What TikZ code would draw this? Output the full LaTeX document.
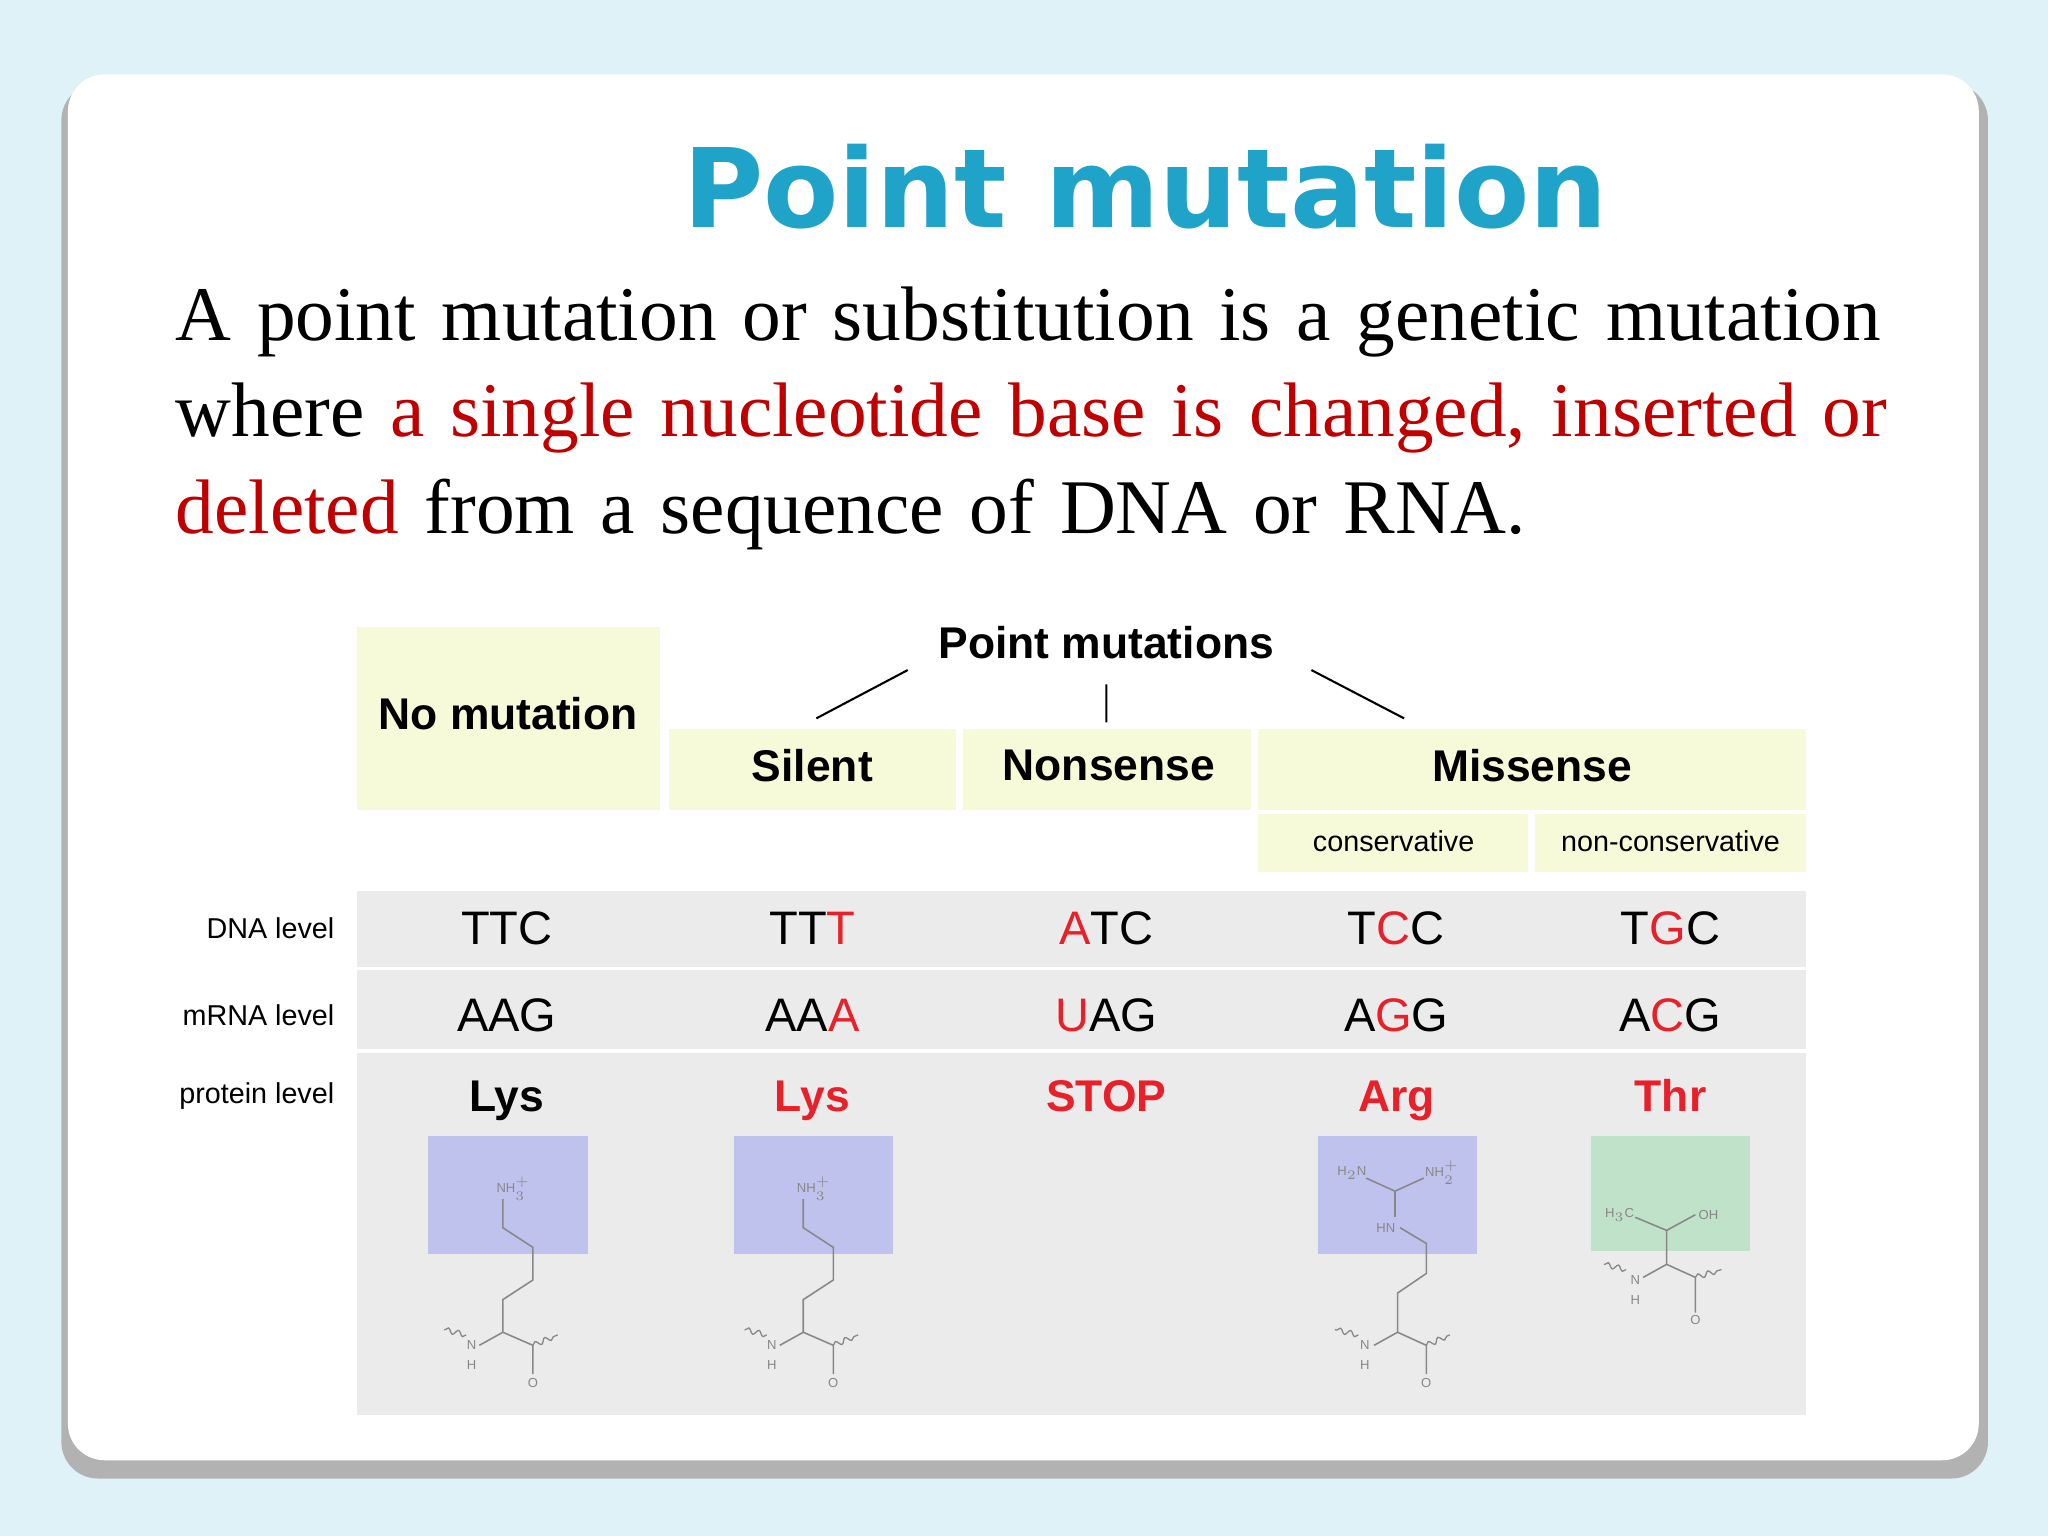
\documentclass[tikz,border=0pt]{standalone}
\usepackage{fontspec}
\setmainfont{Liberation Serif}
\setsansfont{Liberation Sans}
\newfontfamily\titlefont{DejaVu Sans}
\usetikzlibrary{decorations.pathmorphing}
\definecolor{bgblue}{HTML}{DFF2F8}
\definecolor{ttl}{HTML}{1FA3C8}
\definecolor{dred}{HTML}{C00000}
\definecolor{bred}{HTML}{E8202A}
\definecolor{yel}{HTML}{F7FAD8}
\definecolor{gry}{HTML}{EBEBEC}
\definecolor{lav}{HTML}{BFC2EC}
\definecolor{grn}{HTML}{BFE2C8}
\definecolor{mol}{HTML}{888888}
\begin{document}
\begin{tikzpicture}[x=0.5pt,y=-0.5pt,
  hdr/.style={font=\sffamily\bfseries\fontsize{17}{20}\selectfont},
  cod/.style={font=\sffamily\fontsize{18}{20}\selectfont},
  prot/.style={font=\sffamily\bfseries\fontsize{17}{20}\selectfont},
  lvl/.style={font=\sffamily\fontsize{11}{13}\selectfont,anchor=east},
  sub/.style={font=\sffamily\fontsize{11}{13}\selectfont},
  bond/.style={draw=mol,line width=0.6pt},
  wav/.style={draw=mol,line width=0.5pt,decorate,decoration={snake,amplitude=1pt,segment length=4pt}},
  atm/.style={font=\sffamily\fontsize{5}{6}\selectfont,text=mol,inner sep=0.5pt}]
\useasboundingbox (0,0) rectangle (1568,1176);
\fill[bgblue] (0,0) rectangle (1568,1176);
\fill[gray!60,rounded corners=14] (47,64) rectangle (1522,1132);
\fill[white,rounded corners=14] (52,57) rectangle (1515,1118);
\node (title) [font=\titlefont\bfseries\fontsize{42}{50}\selectfont,text=ttl] at (877,143) {Point mutation};
\node (body) [anchor=north west,align=left,text width=730pt,font=\fontsize{29.6}{37}\selectfont,inner sep=0] at (134,219)
 {A point mutation or substitution is a genetic mutation\\where \textcolor{dred}{a single nucleotide base is changed, inserted or}\\\textcolor{dred}{deleted} from a sequence of DNA or RNA.};
% yellow boxes
\fill[yel] (273,480) rectangle (505,620);
\fill[yel] (512,558) rectangle (732,620);
\fill[yel] (737,558) rectangle (958,620);
\fill[yel] (963,558) rectangle (1383,620);
\fill[yel] (963,623) rectangle (1170,668);
\fill[yel] (1175,623) rectangle (1383,668);
\node (nomut) [hdr] at (389,546) {No mutation};
\node (pm) [hdr] at (847,492) {Point mutations};
\node (sil) [hdr] at (622,586) {Silent};
\node (non) [hdr] at (849,586) {Nonsense};
\node (mis) [hdr] at (1173,586) {Missense};
\node (cons) [sub] at (1067,644) {conservative};
\node (ncons) [sub] at (1279,644) {non-conservative};
\coordinate (a1) at (695,513); \coordinate (a2) at (625,550);
\coordinate (b1) at (847,524); \coordinate (b2) at (847,553);
\coordinate (c1) at (1004,513); \coordinate (c2) at (1075,550);
\draw[line width=0.8pt] (a1)--(a2) (b1)--(b2) (c1)--(c2);
% grey table
\fill[gry] (273,682) rectangle (1383,740);
\fill[gry] (273,743) rectangle (1383,803);
\fill[gry] (273,806) rectangle (1383,1083);
\node[lvl] at (263,711) {DNA level};
\node[lvl] at (263,777) {mRNA level};
\node[lvl] at (263,839) {protein level};
\def\R#1{\textcolor{bred}{#1}}
\foreach \x/\d/\m/\p in {388/TTC/AAG/Lys,622/TT\R{T}/AA\R{A}/\R{Lys},847/\R{A}TC/\R{U}AG/\R{STOP},1069/T\R{C}C/A\R{G}G/\R{Arg},1279/T\R{G}C/A\R{C}G/\R{Thr}}{
  \node[cod] at (\x,711) {\d};
  \node[cod] at (\x,777) {\m};
  \node[prot,anchor=base] at (\x,851) {\p};
}
% molecule boxes
\fill[lav] (328,870) rectangle (450,960);
\fill[lav] (562,870) rectangle (684,960);
\fill[lav] (1009,870) rectangle (1131,960);
\fill[grn] (1218,870) rectangle (1340,958);
% lysine
\foreach \x in {385,615}{
 \node[atm] at (\x+8,910) {NH$_3^+$};
 \draw[bond] (\x,918)--(\x,940)--(\x+23,955)--(\x+23,980)--(\x,995)--(\x,1020)--(\x+23,1030)--(\x+23,1052);
 \draw[bond] (\x,1020)--(\x-18,1030);
 \draw[wav] (\x+23,1030)--(\x+42,1022);
 \draw[wav] (\x-28,1022)--(\x-45,1018);
 \node[atm] at (\x-24,1030) {N};
 \node[atm] at (\x-24,1045) {H};
 \node[atm] at (\x+23,1059) {O};
}
% arginine
\node[atm] at (1035,898) {H$_2$N};
\node[atm] at (1104,898) {NH$_2^+$};
\node[atm] at (1061,940) {HN};
\draw[bond] (1046,902)--(1068,912)--(1090,902);
\draw[bond] (1068,912)--(1068,932);
\draw[bond] (1072,940)--(1092,952)--(1092,975)--(1070,990)--(1070,1020)--(1092,1030)--(1092,1052);
\draw[bond] (1070,1020)--(1052,1030);
\draw[wav] (1092,1030)--(1110,1022);
\draw[wav] (1040,1022)--(1022,1018);
\node[atm] at (1045,1030) {N};
\node[atm] at (1045,1045) {H};
\node[atm] at (1092,1059) {O};
% threonine
\node[atm] at (1240,930) {H$_3$C};
\node[atm] at (1308,930) {OH};
\draw[bond] (1252,932)--(1276,942)--(1298,930);
\draw[bond] (1276,942)--(1276,968)--(1298,978)--(1298,1005);
\draw[bond] (1276,968)--(1258,978);
\draw[wav] (1298,978)--(1318,972);
\draw[wav] (1245,972)--(1228,968);
\node[atm] at (1252,980) {N};
\node[atm] at (1252,995) {H};
\node[atm] at (1298,1011) {O};
\end{tikzpicture}
\end{document}
